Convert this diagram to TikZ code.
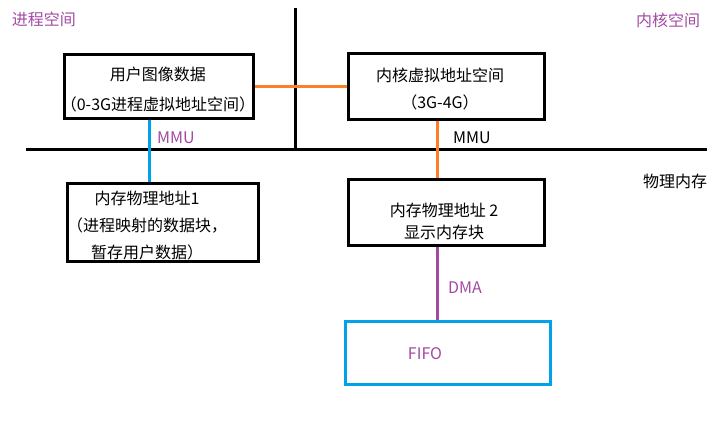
\documentclass[tikz,border=0pt]{standalone}
\usepackage{fontspec}
\setmainfont{Noto Sans CJK SC}
\definecolor{lineorange}{HTML}{FF7F27}
\definecolor{lineblue}{HTML}{00A2E8}
\definecolor{linepurple}{HTML}{A349A4}
\begin{document}
\begin{tikzpicture}[x=1pt,y=-1pt,
    box/.style={draw,line width=3pt,inner sep=0pt},
    txt/.style={font=\fontsize{16}{27}\selectfont,align=center,inner sep=0pt},
    tag/.style={font=\fontsize{16}{18}\selectfont,inner sep=0pt,text=linepurple},
    wire/.style={line width=3pt}]
\useasboundingbox (0,0) rectangle (720,432);
\draw[wire] (26,149) coordinate (hl) -- (707,149) coordinate (hr);
\draw[wire] (295,8) coordinate (vt) -- (295,149) coordinate (vb);
\node[box,minimum width=189pt,minimum height=64pt] (userbox) at (159,86.5) {};
\node[box,minimum width=191pt,minimum height=78pt] (phys1) at (163,222.5) {};
\node[box,minimum width=196pt,minimum height=66pt] (kernbox) at (446.5,86.5) {};
\node[box,minimum width=196pt,minimum height=66pt] (phys2) at (446.5,212.5) {};
\node[box,draw=lineblue,minimum width=205pt,minimum height=63pt] (fifo) at (448,353) {};
\node[txt,font=\fontsize{16}{30}\selectfont] (usertxt) at (158,90) {用户图像数据\\（0-3G进程虚拟地址空间）};
\node[txt] (phys1txt) at (147,226) {内存物理地址1\\（进程映射的数据块，\\暂存用户数据）};
\node[txt] (kerntxt) at (440,88.5) {内核虚拟地址空间\\（3G-4G）};
\node[txt,font=\fontsize{16}{22}\selectfont] (phys2txt) at (444,221) {内存物理地址 2\\显示内存块};
\node[tag] (fifotxt) at (425,354) {FIFO};
\node[tag] (userspace) at (44,19) {进程空间};
\node[tag] (kernspace) at (668,20) {内核空间};
\node[tag,text=black] (physmem) at (675,181) {物理内存};
\node[tag] (mmua) at (176,138) {MMU};
\node[tag,text=black] (mmub) at (472,138) {MMU};
\node[tag] (dma) at (465,288) {DMA};
\draw[wire,lineorange] (userbox.east) -- (kernbox.west);
\draw[wire,lineblue] ([xshift=-10pt]userbox.south) -- ([xshift=-10pt]userbox.south |- phys1.north);
\draw[wire,lineorange] ([xshift=-9.5pt]kernbox.south) -- ([xshift=-9.5pt]kernbox.south |- phys2.north);
\draw[wire,linepurple] ([xshift=-9.5pt]phys2.south) -- ([xshift=-9.5pt]phys2.south |- fifo.north);
\end{tikzpicture}
\end{document}
